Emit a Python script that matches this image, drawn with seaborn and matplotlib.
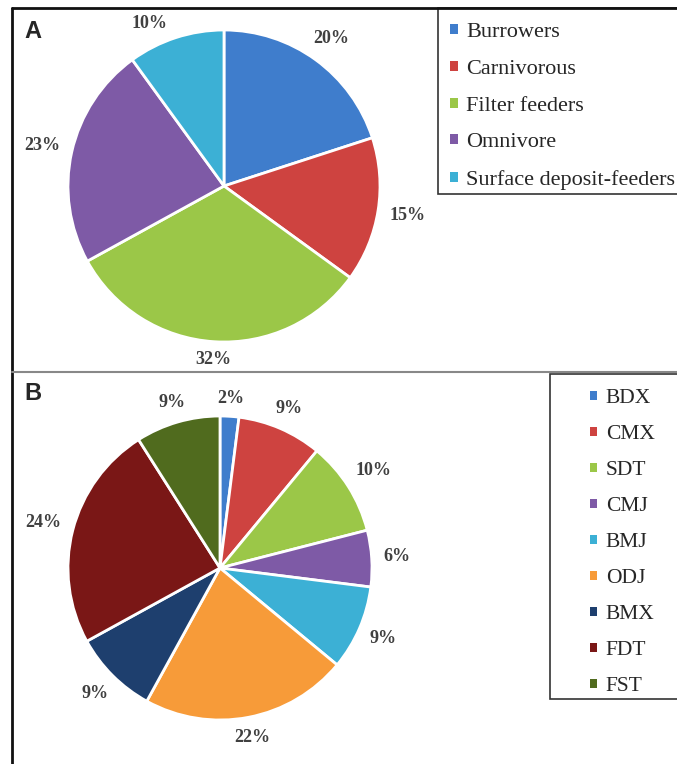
import numpy as np
import matplotlib
matplotlib.use('Agg')
import matplotlib.pyplot as plt
import seaborn as sns
from matplotlib.patches import Rectangle, Patch
from matplotlib.lines import Line2D

# data
feeding_groups = ['Burrowers', 'Carnivorous', 'Filter feeders', 'Omnivore', 'Surface deposit-feeders']
feeding_pct = [20, 15, 32, 23, 10]
feeding_colors = ['#3F7DCC', '#CE4340', '#9BC748', '#7E5AA6', '#3CB0D5']

sites = ['BDX', 'CMX', 'SDT', 'CMJ', 'BMJ', 'ODJ', 'BMX', 'FDT', 'FST']
site_pct = [2, 9, 10, 6, 9, 22, 9, 24, 9]
site_colors = ['#3F7DCC', '#CE4340', '#9BC748', '#7E5AA6', '#3CB0D5',
               '#F79B39', '#1E3F6E', '#7A1716', '#506B1E']

sns.set_theme(style='white')
plt.rcParams['font.family'] = ['Liberation Serif', 'DejaVu Serif']

W, H = 677, 764
fig = plt.figure(figsize=(W / 100, H / 100), dpi=100)


def px_axes(cx, cy, r):
    # square axes centred on (cx, cy) in pixel coords from top-left
    return fig.add_axes([(cx - r) / W, (H - cy - r) / H, 2 * r / W, 2 * r / H])


def draw_pie(cx, cy, r, values, colors, top_px, gap=11):
    ax = px_axes(cx, cy, r)
    wedges, _, autotexts = ax.pie(values, colors=colors, startangle=90, counterclock=False,
                                  autopct='%1.0f%%', pctdistance=1.0,
                                  wedgeprops=dict(edgecolor='white', linewidth=2),
                                  textprops=dict(fontsize=13, fontweight='bold', color='#404040',
                                                 family='Liberation Serif'))
    ax.set_xlim(-1, 1)
    ax.set_ylim(-1, 1)
    ax.set_aspect('equal')
    ax.axis('off')
    fig.canvas.draw()
    # push each label just outside its wedge, Excel "outside end" style
    max_up = cy - top_px  # label centre may not go higher than this
    for w, t in zip(wedges, autotexts):
        th = np.deg2rad((w.theta1 + w.theta2) / 2)
        bb = t.get_window_extent()
        d = r + gap + abs(np.cos(th)) * bb.width / 2 + abs(np.sin(th)) * bb.height * 0.35
        if d * np.sin(th) > max_up:
            # slide along the arc so the label stays inside the panel
            a = np.arcsin(max_up / d)
            th = a if np.cos(th) >= 0 else np.pi - a
        t.set_position((d / r * np.cos(th), d / r * np.sin(th)))
        t.set_clip_on(False)
    return ax


def box_legend(x0, y0, x1, y1, labels, colors, fs, pad_x):
    fig.add_artist(Rectangle((x0 / W, 1 - y1 / H), (x1 - x0) / W, (y1 - y0) / H,
                             transform=fig.transFigure, facecolor='white',
                             edgecolor='#333333', linewidth=1.2))
    handles = [Patch(facecolor=c, edgecolor='none') for c in colors]
    fig.legend(handles, labels, loc='upper left',
               bbox_to_anchor=((x0 + pad_x) / W, 1 - (y0 + 11) / H),
               frameon=False, fontsize=fs, handlelength=0.32, handleheight=0.32,
               handletextpad=0.4, labelspacing=0.79, borderpad=0.2, borderaxespad=0)


draw_pie(224, 186, 156, feeding_pct, feeding_colors, top_px=24)
draw_pie(220, 568, 152, site_pct, site_colors, top_px=395)

box_legend(438, 8, 700, 194, feeding_groups, feeding_colors, 16, 8)
box_legend(550, 374, 700, 699, sites, site_colors, 15.5, 36)

# panel frame
fig.add_artist(Line2D([12 / W, 12 / W], [0, 1 - 8 / H], transform=fig.transFigure,
                      color='#111111', linewidth=2))
fig.add_artist(Line2D([12 / W, 1], [1 - 8 / H, 1 - 8 / H], transform=fig.transFigure,
                      color='#111111', linewidth=2))
fig.add_artist(Line2D([12 / W, 1], [1 - 372 / H, 1 - 372 / H], transform=fig.transFigure,
                      color='#888888', linewidth=1.5))

fig.text(24 / W, 1 - 31 / H, 'A', fontsize=17, fontweight='bold', family='Liberation Sans',
         va='center', ha='left')
fig.text(24 / W, 1 - 394 / H, 'B', fontsize=17, fontweight='bold', family='Liberation Sans',
         va='center', ha='left')

fig.savefig('out.png', dpi=100)
